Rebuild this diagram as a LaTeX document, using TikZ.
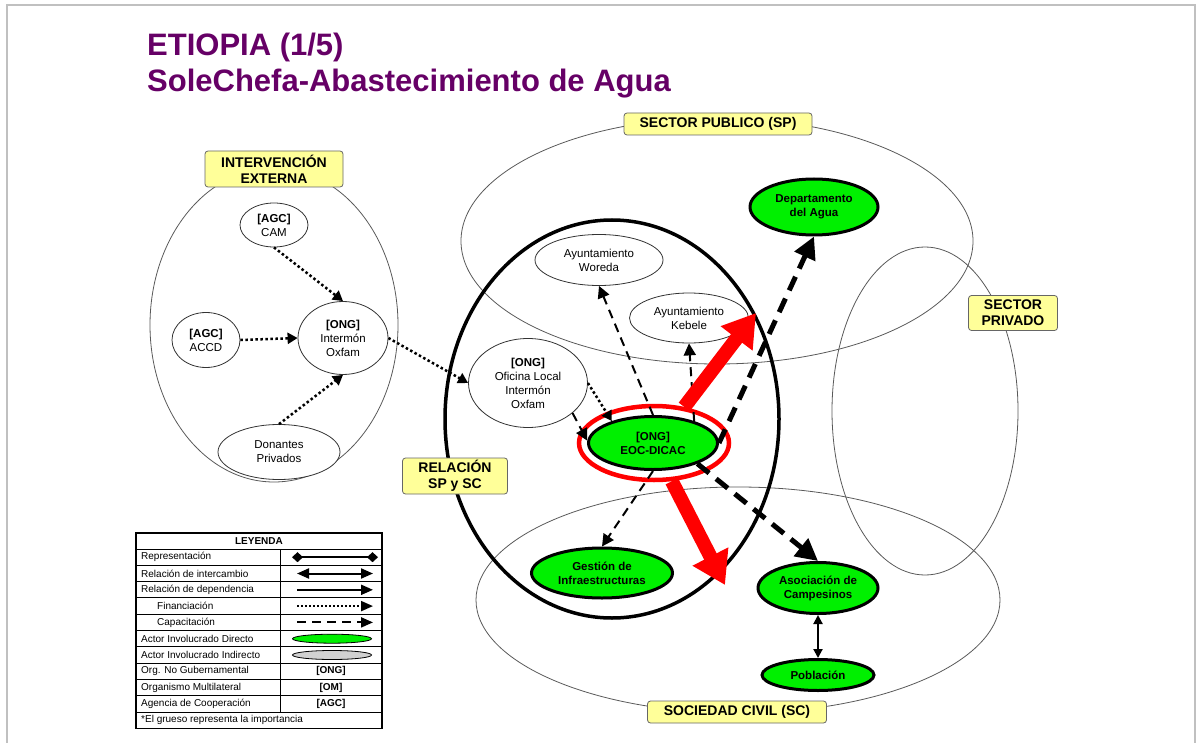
\documentclass[tikz,border=0pt]{standalone}
\usepackage{fontspec}
\setmainfont{Liberation Sans}
\usetikzlibrary{arrows.meta,shapes.geometric}
\definecolor{titulo}{RGB}{102,0,102}
\definecolor{verde}{RGB}{0,240,0}
\definecolor{amarillo}{RGB}{255,255,153}
\definecolor{marco}{RGB}{192,192,192}
\tikzset{
  zona/.style={draw=black!65,line width=0.8pt,ellipse,inner sep=0pt},
  etiqueta/.style={draw=black!60,fill=amarillo,rounded corners=3pt,align=center,inner sep=1pt,
    line width=0.8pt,font=\bfseries\fontsize{14}{16}\selectfont},
  indirecto/.style={draw=black!80,fill=white,ellipse,inner sep=0pt,line width=0.8pt,align=center,
    font=\fontsize{11.5}{14}\selectfont},
  directo/.style={draw=black,fill=verde,ellipse,inner sep=0pt,line width=3pt,align=center,
    font=\bfseries\fontsize{11.5}{14}\selectfont},
  financ/.style={line width=2.5pt,dash pattern=on 2.5pt off 2.5pt,-{Triangle[length=10pt,width=11pt]}},
  capac/.style={line width=2pt,dash pattern=on 9pt off 6pt,-{Triangle[length=12pt,width=12pt]}},
  capacfuerte/.style={line width=5pt,dash pattern=on 15pt off 9pt,-{Triangle[length=22pt,width=22pt]}},
  importancia/.style={red,line width=14pt,-{Triangle[length=32pt,width=38pt]}},
  leyenda/.style={font=\fontsize{10}{12}\selectfont,anchor=west,inner sep=0pt},
}
\begin{document}
\begin{tikzpicture}[x=1pt,y=-1pt]
\useasboundingbox (0,0) rectangle (1198,743);
\draw[marco,line width=2pt] (7,743) -- (7,5) -- (1195,5) -- (1195,743);
% titulo
\node[anchor=base west,inner sep=0pt,text=titulo,font=\bfseries\fontsize{31}{36}\selectfont] (tit1) at (147,56) {ETIOPIA (1/5)};
\node[anchor=base west,inner sep=0pt,text=titulo,font=\bfseries\fontsize{31}{36}\selectfont] (tit2) at (147,92) {SoleChefa-Abastecimiento de Agua};
% zonas
\node[zona,minimum width=248pt,minimum height=314pt] (ie) at (274,325) {};
\node[zona,minimum width=512pt,minimum height=246pt] (sp) at (717,241) {};
\node[zona,minimum width=186pt,minimum height=328pt] (spriv) at (925,411) {};
\node[zona,minimum width=524pt,minimum height=226pt] (sc) at (738,600) {};
\node[ellipse,draw,line width=3.5pt,inner sep=0pt,minimum width=334pt,minimum height=398pt] (rel) at (612,419) {};
% etiquetas
\node[etiqueta,minimum width=188pt,minimum height=22pt] (etsp) at (718,124) {SECTOR PUBLICO (SP)};
\node[etiqueta,minimum width=138pt,minimum height=36pt] (etie) at (274,169) {INTERVENCIÓN\\EXTERNA};
\node[etiqueta,minimum width=89pt,minimum height=35pt] (etspriv) at (1013,313) {SECTOR\\PRIVADO};
\node[etiqueta,minimum width=105pt,minimum height=36pt] (etrel) at (455,476) {RELACIÓN\\SP y SC};
\node[etiqueta,minimum width=179pt,minimum height=22pt] (etsc) at (737,712) {SOCIEDAD CIVIL (SC)};
% actores indirectos
\node[indirecto,minimum width=68pt,minimum height=44pt] (cam) at (274,225) {\textbf{[AGC]}\\CAM};
\node[indirecto,minimum width=68pt,minimum height=55pt] (accd) at (206,340) {\textbf{[AGC]}\\ACCD};
\node[indirecto,minimum width=90pt,minimum height=73pt] (intermon) at (343,338) {\textbf{[ONG]}\\Intermón\\Oxfam};
\node[indirecto,minimum width=122pt,minimum height=55pt] (donantes) at (279,452) {Donantes\\Privados};
\node[indirecto,minimum width=128pt,minimum height=51pt] (woreda) at (599,260) {Ayuntamiento\\Woreda};
\node[indirecto,minimum width=119pt,minimum height=50pt] (kebele) at (689,318) {Ayuntamiento\\Kebele};
\node[indirecto,minimum width=119pt,minimum height=89pt] (oficina) at (528,383) {\textbf{[ONG]}\\Oficina Local\\Intermón\\Oxfam};
% actores directos
\node[ellipse,draw=red,line width=4.5pt,inner sep=0pt,minimum width=150pt,minimum height=74pt] (anillo) at (654,443) {};
\node[directo,minimum width=129pt,minimum height=53pt] (eoc) at (653,443) {[ONG]\\EOC-DICAC};
\node[directo,minimum width=128pt,minimum height=56pt] (depto) at (814,207) {Departamento\\del Agua};
\node[directo,minimum width=141pt,minimum height=50pt] (gestion) at (602,573) {Gestión de\\Infraestructuras};
\node[directo,minimum width=120pt,minimum height=51pt] (asoc) at (818,588) {Asociación de\\Campesinos};
\node[directo,minimum width=112pt,minimum height=31pt] (poblacion) at (818,675) {Población};
\coordinate (puntasp) at (756,313);
\coordinate (puntasc) at (725,585);
% relaciones
\draw[financ] (cam.south) -- (intermon.north);
\draw[financ] (accd.east) -- (intermon.west);
\draw[financ] (donantes.north) -- (intermon.south);
\draw[financ] (intermon.east) -- (oficina.west);
\draw[financ] (oficina.east) -- (eoc.152);
\draw[capac] (oficina.-34) -- (eoc.178);
\draw[capac] (eoc.north) -- (woreda.south);
\draw[capac] (eoc.28) -- (kebele.south);
\draw[capac] (eoc.south) -- (gestion.north);
\draw[capacfuerte] (eoc.east) -- (depto.south);
\draw[capacfuerte] (eoc.-25) -- (asoc.north);
\draw[importancia] (anillo.50) -- (puntasp);
\draw[importancia] (anillo.-65) -- (puntasc);
\draw[line width=2pt,{Triangle[length=9pt,width=9pt]}-{Triangle[length=9pt,width=9pt]}] (asoc.south) -- (poblacion.north);
% leyenda
\draw[line width=1.5pt] (136,533) rectangle (382,728.3);
\foreach \i in {0,...,10}
  \draw[line width=1pt] (136,549+16.3*\i) -- (382,549+16.3*\i);
\draw[line width=1pt] (280,549) -- (280,712);
\node[font=\bfseries\fontsize{10}{12}\selectfont,inner sep=0pt] (leytit) at (259,541) {LEYENDA};
\foreach \x/\y/\texto in {141/557.2/Representación, 141/573.5/Relación de intercambio,
    141/589.8/Relación de dependencia, 157/606.1/Financiación, 157/622.4/Capacitación,
    141/638.7/Actor Involucrado Directo, 141/655/Actor Involucrado Indirecto,
    141/671.3/Org. No Gubernamental, 141/687.6/Organismo Multilateral,
    141/703.9/Agencia de Cooperación, 141/720.2/*El grueso representa la importancia}
  \node[leyenda] at (\x,\y) {\texto};
\foreach \y/\texto in {671.3/[ONG], 687.6/[OM], 703.9/[AGC]}
  \node[font=\bfseries\fontsize{10}{12}\selectfont,inner sep=0pt] at (331,\y) {\texto};
\draw[line width=1.5pt,{Diamond[length=11pt,width=10pt]}-{Diamond[length=11pt,width=10pt]}] (292,557.2) -- (378,557.2);
\draw[line width=2pt,{Triangle[length=12pt,width=10pt]}-{Triangle[length=12pt,width=10pt]}] (297,573.5) -- (373,573.5);
\draw[line width=2pt,-{Triangle[length=12pt,width=10pt]}] (297,589.8) -- (373,589.8);
\draw[line width=2pt,dash pattern=on 2pt off 2pt,-{Triangle[length=12pt,width=10pt]}] (297,606.1) -- (373,606.1);
\draw[line width=2pt,dash pattern=on 9pt off 6pt,-{Triangle[length=12pt,width=10pt]}] (297,622.4) -- (373,622.4);
\node[ellipse,draw,fill=verde,line width=0.8pt,inner sep=0pt,minimum width=79pt,minimum height=9pt] (leydir) at (332,638.7) {};
\node[ellipse,draw,fill=black!18,line width=0.8pt,inner sep=0pt,minimum width=79pt,minimum height=9pt] (leyind) at (332,655) {};
\end{tikzpicture}
\end{document}
